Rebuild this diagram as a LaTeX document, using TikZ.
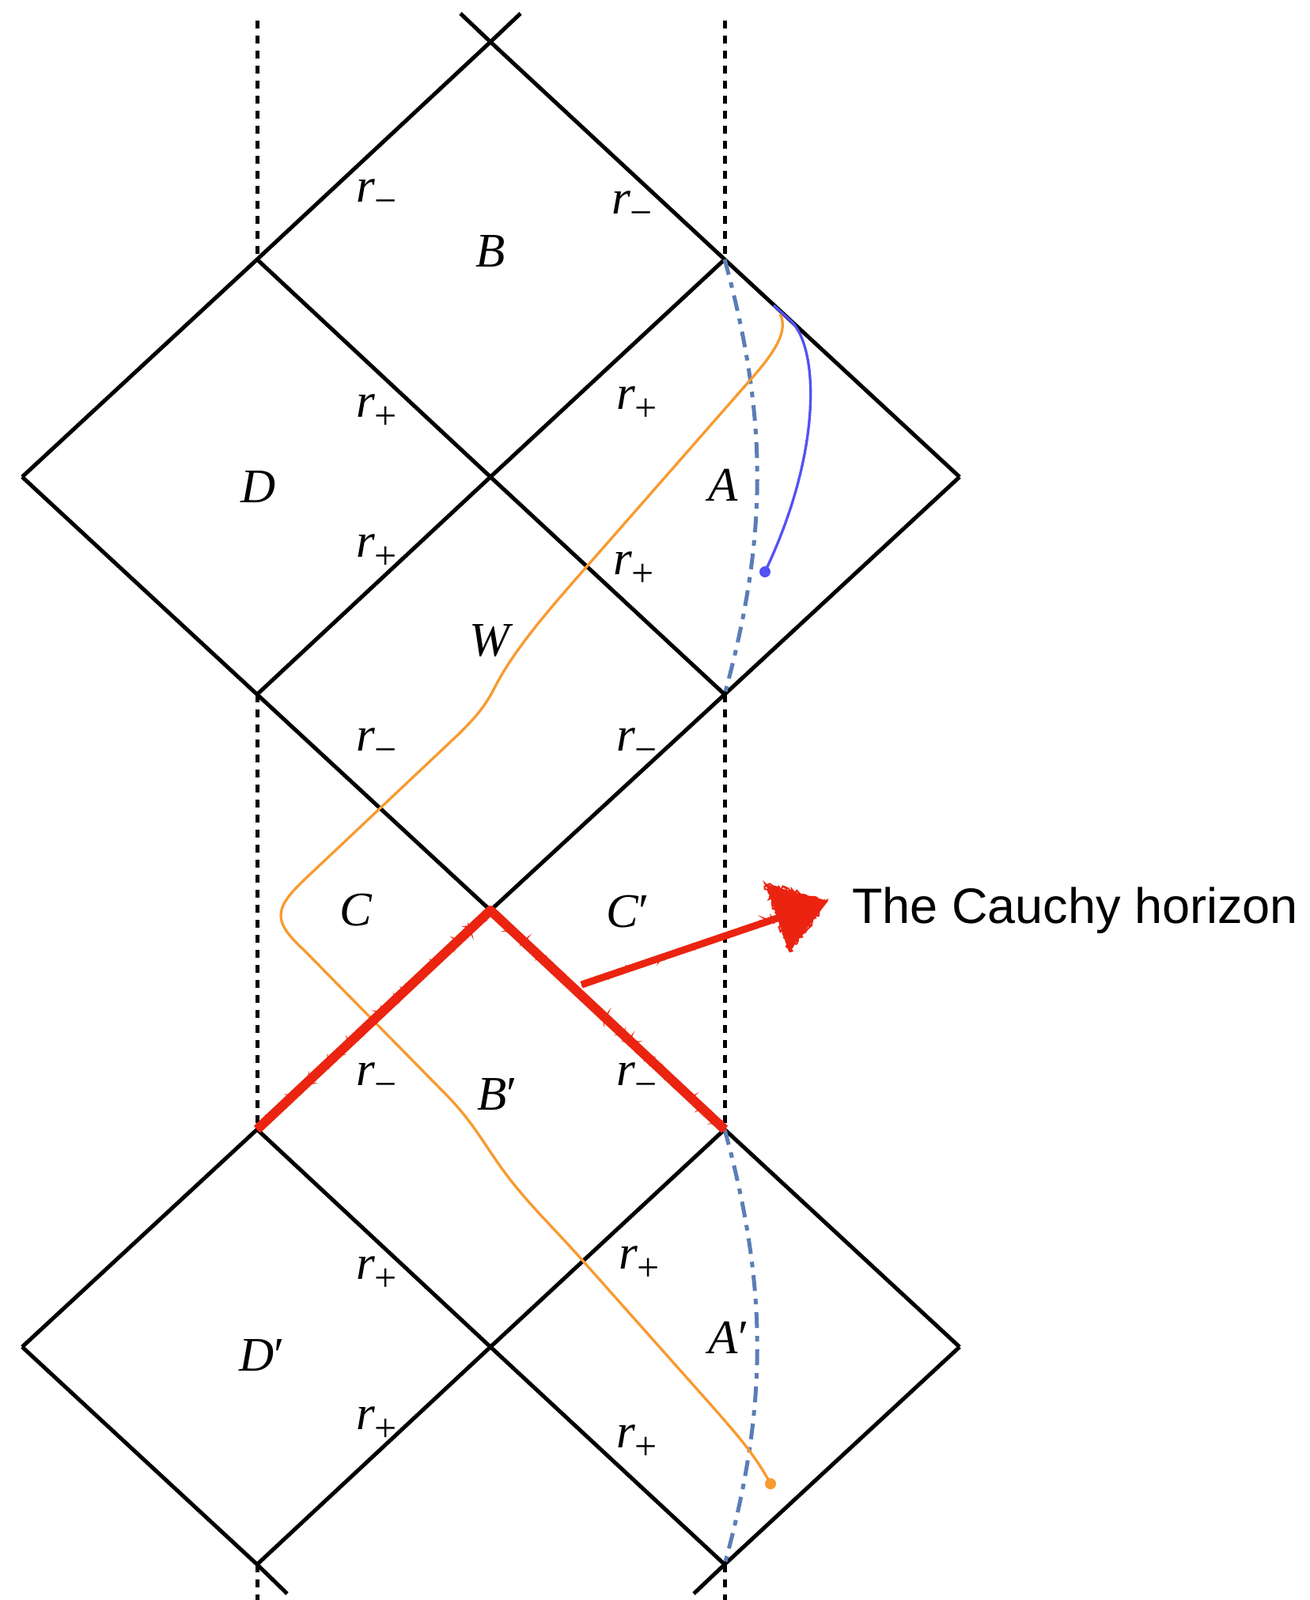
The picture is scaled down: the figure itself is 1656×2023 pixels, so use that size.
\documentclass[tikz,border=0pt]{standalone}
\usepackage{fontspec}
\setmainfont{Liberation Serif}
\newfontfamily\sansf{Liberation Sans}
\usetikzlibrary{arrows.meta,decorations.pathmorphing}
\definecolor{orangec}{RGB}{248,154,48}
\definecolor{bluec}{RGB}{82,82,245}
\definecolor{steelc}{RGB}{90,126,182}
\definecolor{redc}{RGB}{234,36,16}
\newcommand{\rlab}[1]{\textit{r}\kern-1pt\raisebox{-15pt}{\fontsize{50}{50}\selectfont #1}}
\begin{document}
\begin{tikzpicture}[x=1pt,y=-1pt,
  edge/.style={line width=5pt},
  dotline/.style={line width=5pt, dash pattern=on 10pt off 9pt},
  dashdot/.style={steelc, line width=5pt, dash pattern=on 20pt off 10pt on 7pt off 10pt},
  lab/.style={font={\fontsize{61}{70}\selectfont}, inner sep=0pt, anchor=base west},
  caplab/.style={font={\fontsize{61}{70}\selectfont}, inner sep=0pt, anchor=base},
  fuzz/.style={redc, line width=2.5pt, decorate, decoration={random steps, segment length=2.5pt, amplitude=3pt}}]
\useasboundingbox (0,0) rectangle (1656,2023);
\fill[white] (0,0) rectangle (1656,2023);
% vertices
\coordinate (tl) at (582,17); \coordinate (tr) at (658,17);
\coordinate (v00) at (620,53);
\coordinate (v11) at (325,328); \coordinate (v13) at (916,328);
\coordinate (v20) at (28,603); \coordinate (v22) at (620,603); \coordinate (v24) at (1213,603);
\coordinate (v31) at (325,878); \coordinate (v33) at (916,878);
\coordinate (v42) at (620,1151);
\coordinate (v51) at (325,1428); \coordinate (v53) at (916,1428);
\coordinate (v60) at (28,1703); \coordinate (v62) at (620,1703); \coordinate (v64) at (1213,1703);
\coordinate (v71) at (325,1978); \coordinate (v73) at (916,1978);
\coordinate (bl) at (363,2015); \coordinate (br) at (877,2015);
\coordinate (dl0) at (325,26); \coordinate (dr0) at (916,26);
\coordinate (dl7) at (325,2023); \coordinate (dr7) at (916,2023);
% diamond edges
\draw[edge] (tl) -- (v00) -- (v13) -- (v24);
\draw[edge] (tr) -- (v00) -- (v11) -- (v20);
\draw[edge] (v11) -- (v22) -- (v33);
\draw[edge] (v13) -- (v22) -- (v31);
\draw[edge] (v20) -- (v31) -- (v42);
\draw[edge] (v24) -- (v33) -- (v42) -- (v51) -- (v60);
\draw[edge] (v42) -- (v53) -- (v64);
\draw[edge] (v51) -- (v62) -- (v73);
\draw[edge] (v53) -- (v62) -- (v71);
\draw[edge] (v60) -- (v71) -- (bl);
\draw[edge] (v64) -- (v73) -- (br);
% dotted singularities
\draw[dotline] (dl0) -- (v11);
\draw[dotline] (v31) -- (v51);
\draw[dotline] (v71) -- (dl7);
\draw[dotline] (dr0) -- (v13);
\draw[dotline] (v33) -- (v53);
\draw[dotline] (v73) -- (dr7);
% dash-dot curves
\draw[dashdot] (v13) .. controls (971,528) and (971,678) .. (v33);
\draw[dashdot] (v53) .. controls (971,1628) and (971,1778) .. (v73);
% orange worldline
\coordinate (ostart) at (986,397);
\coordinate (oend) at (974,1876);
\draw[orangec, line width=3.3pt] (ostart) .. controls (997,418) and (980,445) .. (947,482)
  -- (742,716) .. controls (700,764) and (650,820) .. (625,870)
  .. controls (612,895) and (600,908) .. (580,928)
  -- (385,1112) .. controls (345,1150) and (345,1165) .. (385,1202)
  -- (560,1380) .. controls (600,1420) and (610,1445) .. (640,1485)
  .. controls (670,1525) and (700,1552) .. (742,1600)
  -- (902,1780) .. controls (930,1812) and (955,1840) .. (oend);
\fill[orangec] (oend) circle (7pt);
% blue worldline
\coordinate (bstart) at (978,386);
\coordinate (bend) at (967,723);
\draw[bluec, line width=3.3pt] (bstart) -- (1000,406) .. controls (1035,440) and (1040,570) .. (bend);
\fill[bluec] (bend) circle (7pt);
% Cauchy horizon
\draw[redc, line width=12pt, line join=round] (v51) -- (v42) -- (v53);
\draw[fuzz] (v51) -- (v42) -- (v53);
\draw[fuzz, decoration={random steps, segment length=1.8pt, amplitude=3.5pt}] (v51) -- (v42) -- (v53);
\coordinate (atail) at (735,1245); \coordinate (atip) at (1047,1139);
\draw[redc, line width=9pt, -{Triangle[length=68pt, width=88pt]}] (atail) -- (atip);
\draw[fuzz] (atail) -- (985,1160);
\draw[fuzz, line width=2pt] (1045,1139) -- (967,1117) -- (999,1203) -- cycle;
% labels
\node[lab] (r1) at (450,255) {\rlab{−}};
\node[lab] (r2) at (773,270) {\rlab{−}};
\node[lab] (r3) at (450,527) {\rlab{+}};
\node[lab] (r4) at (779,517) {\rlab{+}};
\node[lab] (r5) at (450,704) {\rlab{+}};
\node[lab] (r6) at (775,726) {\rlab{+}};
\node[lab] (r7) at (450,949) {\rlab{−}};
\node[lab] (r8) at (779,949) {\rlab{−}};
\node[lab] (r9) at (450,1372) {\rlab{−}};
\node[lab] (r10) at (779,1372) {\rlab{−}};
\node[lab] (r11) at (450,1617) {\rlab{+}};
\node[lab] (r12) at (782,1604) {\rlab{+}};
\node[lab] (r13) at (450,1807) {\rlab{+}};
\node[lab] (r14) at (779,1830) {\rlab{+}};
\node[caplab] (lB) at (620,337) {\textit{B}};
\node[caplab] (lD) at (327,635) {\textit{D}};
\node[caplab] (lA) at (914,633) {\textit{A}};
\node[caplab] (lW) at (621,829) {\textit{W}};
\node[caplab] (lC) at (450,1170) {\textit{C}};
\node[caplab] (lCp) at (794,1172) {\textit{C}′};
\node[caplab] (lBp) at (629,1403) {\textit{B}′};
\node[caplab] (lDp) at (331,1733) {\textit{D}′};
\node[caplab] (lAp) at (921,1711) {\textit{A}′};
\node[font={\sansf\fontsize{63}{70}\selectfont}, inner sep=0pt, anchor=base west] (cauchy) at (1077,1167) {The Cauchy horizon};
\end{tikzpicture}
\end{document}
